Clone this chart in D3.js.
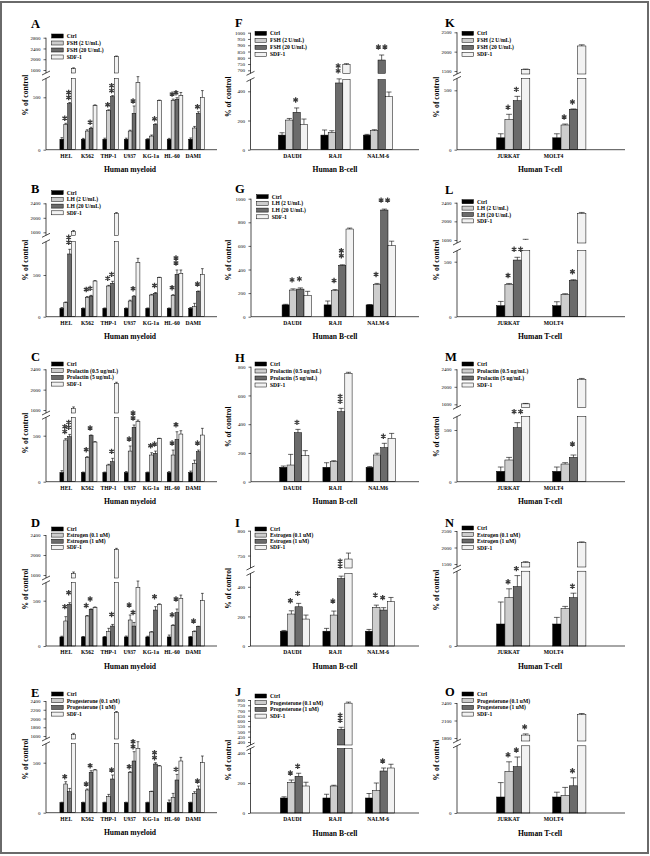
<!DOCTYPE html>
<html><head><meta charset="utf-8">
<script src="https://cdn.jsdelivr.net/npm/d3@7"></script>
<style>body{margin:0;background:#fff}svg{display:block}</style>
</head><body><svg id="c" width="650" height="856"></svg>
<script>
// ---------- categories ----------
const catsMyeloid = ["HEL","K562","THP-1","U937","KG-1a","HL-60","DAMI"];
const catsB = ["DAUDI","RAJI","NALM-6"];
const catsBH = ["DAUDI","RAJI","NALM6"];
const catsT = ["JURKAT","MOLT4"];
// ---------- legends ----------
const legFSH = ["Ctrl","FSH (2 U/mL)","FSH (20 U/mL)","SDF-1"];
const legLH = ["Ctrl","LH (2 U/mL)","LH (20 U/mL)","SDF-1"];
const legPRL = ["Ctrl","Prolactin (0.5 ug/mL)","Prolactin (5 ug/mL)","SDF-1"];
const legEST = ["Ctrl","Estrogen (0.1 uM)","Estrogen (1 uM)","SDF-1"];
const legPRG = ["Ctrl","Progesterone (0.1 uM)","Progesterone (1 uM)","SDF-1"];
// ---------- values: [ctrl, low dose, high dose, SDF-1] ----------
const valsA = [[100,100,100,100,100,100,100],[242,178,373,178,130,468,207],[440,204,506,347,239,481,347],[1650,420,2100,640,468,516,500]];
const errsA = [[15,8,10,10,5,8,12],[10,12,8,8,10,15,15],[10,10,10,70,8,15,15],[30,8,20,57,5,30,64]];
const starsA = [[0,1,1],[0,2,2],[1,2,1],[2,1,1],[2,2,2],[3,2,1],[4,2,1],[5,1,1],[5,2,1],[6,2,1]];
const valsB = [[100,100,100,100,100,100,100],[168,232,368,188,260,256,120],[752,248,400,240,280,508,300],[1620,428,2124,648,468,520,508]];
const errsB = [[10,5,5,5,5,5,10],[8,10,8,10,8,8,40],[56,8,24,12,10,52,8],[30,5,20,52,5,40,68]];
const starsB = [[0,2,2],[1,1,1],[1,2,1],[2,1,1],[2,2,1],[3,2,1],[4,2,1],[5,1,1],[5,2,2],[6,2,1]];
const valsC = [[100,100,100,100,100,100,100],[453,264,181,333,290,290,199],[489,500,217,591,308,460,326],[1630,431,2125,652,467,518,507]];
const errsC = [[20,5,5,10,5,10,15],[15,8,8,55,25,54,35],[25,8,37,25,25,83,18],[30,5,20,18,5,36,73]];
const starsC = [[0,1,2],[0,2,2],[1,1,1],[1,2,1],[2,2,1],[3,1,1],[3,2,2],[4,1,1],[4,2,1],[5,1,1],[5,2,1],[6,2,1]];
const valsD = [[100,100,100,100,100,100,100],[276,331,158,287,154,224,158],[460,404,220,220,397,368,213],[1630,426,2113,647,460,526,500]];
const errsD = [[8,5,5,10,8,21,5],[48,5,37,55,5,10,8],[18,5,18,40,37,40,5],[30,5,20,70,5,36,81]];
const starsD = [[0,1,1],[0,2,1],[1,1,1],[1,2,1],[2,2,1],[3,1,1],[3,2,1],[4,2,1],[5,1,1],[5,2,1],[6,1,1]];
const valsE = [[100,100,100,100,100,100,100],[287,227,160,400,210,153,193],[210,403,337,517,487,327,237],[1630,427,2140,643,467,517,500]];
const errsE = [[5,5,5,5,5,27,5],[23,10,23,10,5,40,17],[33,17,40,93,13,56,30],[30,5,20,67,5,36,67]];
const starsE = [[0,1,1],[1,1,1],[1,2,1],[2,2,1],[3,1,1],[3,2,2],[4,2,2],[5,2,1],[6,2,1]];
const valsF = [[100,100,100],[203,119,130],[256,457,782],[174,745,363]];
const errsF = [[16,35,5],[11,11,7],[30,28,40],[36,8,32]];
const starsF = [[0,2,1],[1,2,2],[2,2,2,"h"]];
const valsG = [[100,100,100],[226,220,274],[234,435,904],[181,743,602]];
const errsG = [[5,33,3],[10,10,8],[10,5,8],[34,8,38]];
const starsG = [[0,1,1],[0,2,1],[1,1,1],[1,2,2],[2,1,1],[2,2,2,"h"]];
const valsH = [[100,100,100],[116,139,186],[341,487,237],[181,754,302]];
const errsH = [[9,32,5],[74,7,12],[23,23,30],[35,7,34]];
const starsH = [[0,2,1],[1,2,2],[2,2,1]];
const valsI = [[100,100,100],[216,209,261],[265,456,243],[182,743,299]];
const errsI = [[5,19,12],[22,27,15],[23,16,16],[27,12,29]];
const starsI = [[0,1,1],[0,2,1],[1,1,1],[1,2,2],[2,1,1],[2,2,1]];
const valsJ = [[100,100,100],[205,180,150],[245,520,280],[180,770,300]];
const errsJ = [[8,25,30],[15,5,50],[20,20,20],[25,10,25]];
const starsJ = [[0,1,1],[0,2,1],[1,2,2],[2,2,1]];
const valsK = [[100,100],[256,208],[413,340],[1540,2147]];
const errsK = [[34,34],[42,8],[36,3],[10,30]];
const starsK = [[0,1,1],[0,2,1],[1,1,1],[1,2,1]];
const valsL = [[100,100],[294,203],[515,330],[1600,2171]];
const errsL = [[39,36],[8,6],[25,6],[15,20]];
const starsL = [[0,1,1],[0,2,2,"h"],[1,2,1]];
const valsM = [[100,100],[210,171],[523,235],[1610,2171]];
const errsM = [[42,42],[25,13],[48,23],[10,20]];
const starsM = [[0,2,2,"h"],[1,2,1]];
const valsN = [[100,100],[220,170],[270,220],[1550,2150]];
const errsN = [[100,30],[40,10],[50,20],[20,20]];
const starsN = [[0,1,1],[0,2,1],[1,2,1]];
const valsO = [[100,100],[260,110],[290,170],[1850,2200]];
const errsO = [[90,30],[60,50],[60,50],[20,20]];
const starsO = [[0,1,1],[0,2,1],[0,3,1],[1,2,1]];
// ---------- tick values ----------
const tLoMy = [0,500], tHiMy = [1600,2000,2400], tHiA = [1600,2000,2400,2800];
const tHiE = [1600,1800,2000,2200,2400];
const tLoF = [0,200,400], tHiF = [700,750,800,850,900,950,1000];
const tG = [0,200,400,600,800,1000], tH = [0,200,400,600,800];
const tLoI = [0,200,400], tHiI = [750,800];
const tLoJ = [0,200,400], tHiJ = [400,450,500,550,600,650,700,750,800];
const tLoT = [0,500], tHiK = [1500,2000,2500], tHiL = [1600,2000,2400];
const tLoN = [0], tHiO = [1800,2100,2400];

// ---------- layout (geometry only) ----------
const my = {cats:catsMyeloid, ax:46, axEnd:217, b0:67.7, b1:196.5, l0:65.7, l1:192.7, bw:3.9, xt:"Human myeloid", xtX:130, ytX:25, lgX:51.7, lx:31};
const bc = {ax:250.5, axEnd:419, b0:295, b1:380, l0:292, l1:377.7, bw:7.3, xt:"Human B-cell", xtX:335, ytX:228.3, lgX:255, lx:235};
const tc = {cats:catsT, ax:457, axEnd:625, b0:513.2, b1:569.3, l0:508, l1:553, bw:8.3, xt:"Human T-cell", xtX:540, ytX:436, lgX:462, lx:445};
const panels = [
 {...my, id:"A", leg:legFSH, vals:valsA, errs:errsA, stars:starsA, tLo:tLoMy, tHi:tHiA, yBase:149.7, k:0.1048, loMax:680, hiMin:1600, hiMax:2800, hiBot:70, hiTop:37.7, ly:28, lgY:36, lgD:7, ytY:95, gap:5},
 {...my, id:"B", leg:legLH, vals:valsB, errs:errsB, stars:starsB, tLo:tLoMy, tHi:tHiMy, yBase:316.7, k:0.0834, loMax:900, hiMin:1600, hiMax:2400, hiBot:232.3, hiTop:203.3, ly:192.5, lgY:192.7, lgD:6.7, ytY:260, gap:7},
 {...my, id:"C", leg:legPRL, vals:valsC, errs:errsC, stars:starsC, tLo:tLoMy, tHi:tHiMy, yBase:481.7, k:0.092, loMax:700, hiMin:1600, hiMax:2400, hiBot:410, hiTop:369.3, ly:360.5, lgY:364, lgD:6.7, ytY:433, gap:7},
 {...my, id:"D", leg:legEST, vals:valsD, errs:errsD, stars:starsD, tLo:tLoMy, tHi:tHiMy, yBase:646, k:0.0906, loMax:700, hiMin:1600, hiMax:2400, hiBot:575, hiTop:535, ly:527, lgY:529, lgD:6.1, ytY:589, gap:10},
 {...my, id:"E", leg:legPRG, vals:valsE, errs:errsE, stars:starsE, tLo:tLoMy, tHi:tHiE, yBase:812.7, k:0.1, loMax:690, hiMin:1600, hiMax:2400, hiBot:736, hiTop:701, ly:696.5, lgY:694, lgD:6.7, ytY:759, gap:5},
 {...bc, id:"F", cats:catsB, leg:legFSH, vals:valsF, errs:errsF, stars:starsF, tLo:tLoF, tHi:tHiF, yBase:149.7, k:0.146, loMax:480, hiMin:700, hiMax:1000, hiBot:70.3, hiTop:32.7, ly:27.3, lgY:33.3, lgD:7, ytY:96.7, gap:8, b0:293, b1:378},
 {...bc, id:"G", cats:catsB, leg:legLH, vals:valsG, errs:errsG, stars:starsG, tLo:tG, tHi:null, yBase:316.7, k:0.118, loMax:1000, hiMin:null, ly:192.7, lgY:196.7, lgD:6.7, ytY:260, gap:9, b0:296.7, b1:380.7, lgX:256.7, ax:251},
 {...bc, id:"H", cats:catsBH, leg:legPRL, vals:valsH, errs:errsH, stars:starsH, tLo:tH, tHi:null, yBase:481.7, k:0.14375, loMax:800, hiMin:null, ly:361.7, lgY:364, lgD:7, ytY:426.7, gap:7, b0:294.3, b1:380.7, ax:251},
 {...bc, id:"I", cats:catsB, leg:legEST, vals:valsI, errs:errsI, stars:starsI, tLo:tLoI, tHi:tHiI, yBase:646, k:0.148, loMax:490, hiMin:731, hiMax:800, hiBot:565, hiTop:530.7, ly:527.3, lgY:529, lgD:6.1, ytY:588.3, gap:10},
 {...bc, id:"J", cats:catsB, leg:legPRG, vals:valsJ, errs:errsJ, stars:starsJ, tLo:tLoJ, tHi:tHiJ, yBase:813, k:0.15, loMax:430, hiMin:400, hiMax:800, hiBot:742, hiTop:700, ly:695.5, lgY:696, lgD:6.7, ytY:760, gap:7},
 {...tc, id:"K", leg:legFSH, vals:valsK, errs:errsK, stars:starsK, tLo:tLoT, tHi:tHiK, yBase:149.7, k:0.1188, loMax:600, hiMin:1500, hiMax:2500, hiBot:71, hiTop:32.3, ly:27.3, lgY:33.3, lgD:7, ytY:97, gap:7},
 {...tc, id:"L", leg:legLH, vals:valsL, errs:errsL, stars:starsL, tLo:tLoT, tHi:tHiL, yBase:316.7, k:0.11, loMax:600, hiMin:1600, hiMax:2400, hiBot:240, hiTop:202.7, ly:194, lgY:201.7, lgD:6.4, ytY:260, gap:8},
 {...tc, id:"M", leg:legPRL, vals:valsM, errs:errsM, stars:starsM, tLo:tLoT, tHi:tHiL, yBase:481.7, k:0.1034, loMax:630, hiMin:1600, hiMax:2400, hiBot:404.3, hiTop:369.3, ly:361.3, lgY:364, lgD:7, ytY:436.7, gap:11},
 {...tc, id:"N", leg:legEST, vals:valsN, errs:errsN, stars:starsN, tLo:tLoN, tHi:tHiK, yBase:646, k:0.22, loMax:340, hiMin:1500, hiMax:2500, hiBot:564, hiTop:531, ly:527, lgY:528, lgD:6.5, ytY:590, gap:7},
 {...tc, id:"O", leg:legPRG, vals:valsO, errs:errsO, stars:starsO, tLo:tLoN, tHi:tHiO, yBase:813, k:0.16, loMax:420, hiMin:1800, hiMax:2400, hiBot:738, hiTop:703, ly:696, lgY:694, lgD:6.7, ytY:760, gap:7}
];

const fills = ["#000000","#cdcdcd","#6b6b6b","#f2f2f2"];
const SERIF = "'Liberation Serif','Times New Roman',serif";
const svg = d3.select("#c");
svg.append("rect").attr("x",1).attr("y",2).attr("width",647).attr("height",851)
   .attr("fill","#fff").attr("stroke","#6a6a6a").attr("stroke-width",2);
const star = d3.symbol().type(d3.symbolAsterisk).size(20);

panels.forEach(p => {
  const g = svg.append("g");
  const lo = d3.scaleLinear().domain([0,p.loMax]).range([p.yBase, p.yBase - p.loMax*p.k]);
  const loTop = lo(p.loMax);
  const hasHi = p.hiMin != null;
  const hi = hasHi ? d3.scaleLinear().domain([p.hiMin,p.hiMax]).range([p.hiBot,p.hiTop]) : null;
  const hiStart = hasHi ? p.hiBot + 3 : null;
  const yPos = v => (!hasHi || v <= p.loMax) ? lo(v) : (v >= p.hiMin ? hi(v) : Math.max(lo(v), hiStart));
  const xb = d3.scalePoint().domain(p.cats).range([p.b0,p.b1]);
  const xl = d3.scalePoint().domain(p.cats).range([p.l0,p.l1]);
  const bx = (ci,s) => xb(p.cats[ci]) + (s-2)*p.bw;

  // bars
  p.vals.forEach((ser,s) => ser.forEach((v,ci) => {
    const x = bx(ci,s);
    const vl = Math.min(v,p.loMax);
    g.append("rect").attr("x",x).attr("y",lo(vl)).attr("width",p.bw).attr("height",p.yBase-lo(vl))
      .attr("fill",fills[s]).attr("stroke","#000").attr("stroke-width",0.5);
    if (hasHi && v > p.hiMin) {
      g.append("rect").attr("x",x).attr("y",hi(v)).attr("width",p.bw).attr("height",hiStart-hi(v))
        .attr("fill",fills[s]).attr("stroke","#000").attr("stroke-width",0.5);
    }
    // error bar
    const e = p.errs[s][ci];
    const y0 = yPos(v), y1 = yPos(v+e), cx = x + p.bw/2, cw = p.bw*0.35;
    g.append("line").attr("x1",cx).attr("x2",cx).attr("y1",y0).attr("y2",y1).attr("stroke","#000").attr("stroke-width",0.6);
    g.append("line").attr("x1",cx-cw).attr("x2",cx+cw).attr("y1",y1).attr("y2",y1).attr("stroke","#000").attr("stroke-width",0.6);
  }));

  // stars
  p.stars.forEach(([ci,s,n,dir]) => {
    const cx = bx(ci,s) + p.bw/2;
    const top = yPos(p.vals[s][ci] + p.errs[s][ci]) - p.gap;
    for (let i=0;i<n;i++) {
      const x = dir==="h" ? cx + (i-(n-1)/2)*6.5 : cx - 1;
      const y = dir==="h" ? top : top - i*5;
      g.append("path").attr("d",star()).attr("transform",`translate(${x},${y})`)
        .attr("fill","none").attr("stroke","#3a3a3a").attr("stroke-width",1.3);
    }
  });

  // y axes
  const styleAxis = sel => { sel.select(".domain").remove();
    sel.selectAll("text").attr("font-family",SERIF).attr("font-size",5).attr("fill","#000");
    sel.selectAll("line").attr("stroke","#000").attr("stroke-width",0.6); };
  g.append("g").attr("transform",`translate(${p.ax},0)`)
    .call(d3.axisLeft(lo).tickValues(p.tLo).tickSize(2.5).tickPadding(3).tickFormat(d3.format("d"))).call(styleAxis);
  g.append("line").attr("x1",p.ax).attr("x2",p.ax).attr("y1",p.yBase).attr("y2",loTop).attr("stroke","#000").attr("stroke-width",0.7);
  if (hasHi) {
    g.append("g").attr("transform",`translate(${p.ax},0)`)
      .call(d3.axisLeft(hi).tickValues(p.tHi).tickSize(2.5).tickPadding(3).tickFormat(d3.format("d"))).call(styleAxis);
    g.append("line").attr("x1",p.ax).attr("x2",p.ax).attr("y1",hiStart).attr("y2",p.hiTop).attr("stroke","#000").attr("stroke-width",0.7);
    [hiStart, loTop].forEach(y => g.append("line").attr("x1",p.ax-4).attr("x2",p.ax+4).attr("y1",y+2).attr("y2",y-2)
      .attr("stroke","#000").attr("stroke-width",0.7));
  }
  // x axis
  g.append("line").attr("x1",p.ax).attr("x2",p.axEnd).attr("y1",p.yBase).attr("y2",p.yBase).attr("stroke","#000").attr("stroke-width",0.7);
  g.append("g").attr("transform",`translate(0,${p.yBase+4.5})`)
    .call(d3.axisBottom(xl).tickSize(0).tickPadding(0))
    .call(sel => { sel.select(".domain").remove();
      sel.selectAll("text").attr("font-family",SERIF).attr("font-size",5.6).attr("font-weight","bold").attr("fill","#000"); });

  // titles
  g.append("text").attr("x",p.xtX).attr("y",p.yBase+22.5).attr("text-anchor","middle")
    .attr("font-family",SERIF).attr("font-weight","bold").attr("font-size",7.6).text(p.xt);
  g.append("text").attr("transform",`translate(${p.ytX+2.5},${p.ytY}) rotate(-90)`).attr("text-anchor","middle")
    .attr("font-family",SERIF).attr("font-weight","bold").attr("font-size",7.6).text("% of control");
  g.append("text").attr("x",p.lx).attr("y",p.ly).attr("font-family",SERIF).attr("font-weight","bold")
    .attr("font-size",12.5).text(p.id);

  // legend
  p.leg.forEach((t,i) => {
    const y = p.lgY + i*p.lgD;
    g.append("rect").attr("x",p.lgX).attr("y",y-2).attr("width",11.5).attr("height",4)
      .attr("fill",fills[i]).attr("stroke","#000").attr("stroke-width",0.5);
    g.append("text").attr("x",p.lgX+15).attr("y",y+2).attr("font-family",SERIF).attr("font-weight","bold")
      .attr("font-size",5.6).text(t);
  });
});
</script></body></html>
